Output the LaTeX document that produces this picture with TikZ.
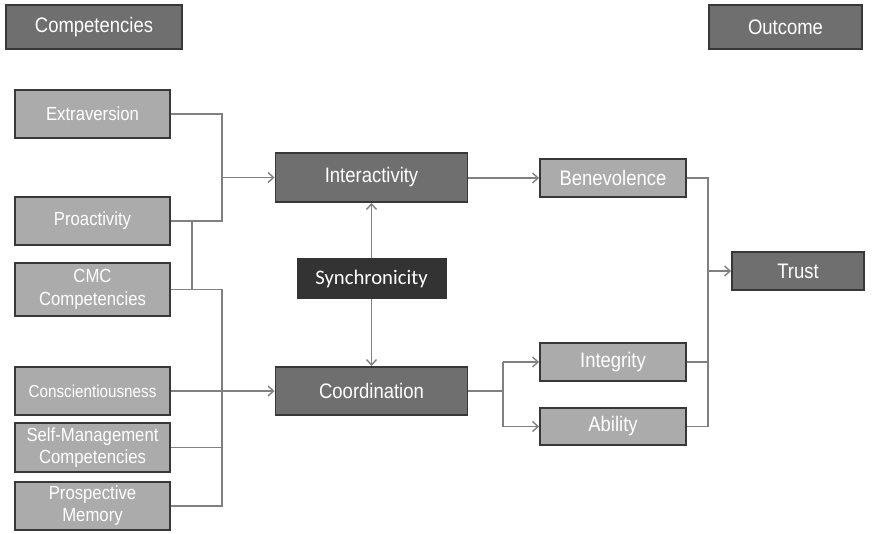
\documentclass[tikz,border=0pt]{standalone}
\usepackage{fontspec}
\setmainfont{Liberation Sans}[FakeStretch=0.88]
\newfontfamily\calib{Carlito}
\usetikzlibrary{arrows.meta}
\definecolor{darkc}{HTML}{6F6F6F}
\definecolor{lightc}{HTML}{ABABAB}
\definecolor{bordc}{HTML}{383838}
\definecolor{syncc}{HTML}{333333}
\definecolor{linec}{HTML}{808080}
\tikzset{
  x=1pt, y=-1pt,
  basebox/.style={draw=bordc, line width=1.9pt, text=white, inner sep=0pt, align=center},
  dk/.style={basebox, fill=darkc, font=\fontsize{21}{23}\selectfont},
  lt/.style={basebox, fill=lightc, font=\fontsize{21}{23}\selectfont},
  lf/.style={basebox, fill=lightc, minimum width=155pt, font=\fontsize{19}{23}\selectfont},
  syn/.style={basebox, draw=syncc, line width=1pt, fill=syncc, font=\calib\fontsize{20.7}{22}\selectfont},
  conn/.style={draw=linec, line width=1.4pt},
  arr/.style={conn, -{Straight Barb[length=5.5pt,width=10pt,line width=1.4pt]}}
}
\begin{document}
\begin{tikzpicture}
\useasboundingbox (0,0) rectangle (880,534);
% headers
\node[dk, minimum width=176pt, minimum height=44pt] (comp) at (94,27) {Competencies};
\node[dk, minimum width=153pt, minimum height=44pt] (outc) at (785.5,27) {Outcome};
% left boxes
\node[lf, minimum height=48pt] (extra) at (92.5,114) {Extraversion};
\node[lf, minimum height=48pt] (proa) at (92.5,221) {Proactivity};
\node[lf, minimum height=53pt] (cmc) at (92.5,289.5) {CMC\\Competencies};
\node[lf, minimum height=48pt, font=\fontsize{17.3}{21}\selectfont] (consc) at (92.5,391) {Conscientiousness};
\node[lf, minimum height=49pt, font=\fontsize{19}{22}\selectfont] (selfm) at (92.5,447.5) {Self-Management\\Competencies};
\node[lf, minimum height=48pt, font=\fontsize{19}{22}\selectfont] (prosp) at (92.5,506) {Prospective\\Memory};
% middle
\node[dk, minimum width=192pt, minimum height=49pt] (inter) at (371.5,177.5) {Interactivity};
\node[dk, minimum width=192pt, minimum height=48pt] (coord) at (371.5,391) {Coordination};
\node[syn, minimum width=149pt, minimum height=40pt] (sync) at (371.5,279) {Synchronicity};
% right
\node[lt, minimum width=146pt, minimum height=38pt] (bene) at (613,178) {Benevolence};
\node[lt, minimum width=146pt, minimum height=38pt] (integ) at (613,362) {Integrity};
\node[lt, minimum width=146pt, minimum height=37pt] (abil) at (613,426.5) {Ability};
\node[dk, minimum width=132pt, minimum height=38pt] (trust) at (798,271) {Trust};
% junction coordinates
\coordinate (ja) at (222,114);
\coordinate (jb) at (222,221);
\coordinate (ji) at (222,177.5);
\coordinate (pb) at (192,221);
\coordinate (pc) at (192,289.5);
\coordinate (jc) at (222,289.5);
\coordinate (jd) at (222,506);
\coordinate (js) at (222,447.5);
\coordinate (co) at (503,391);
\coordinate (ct) at (503,362);
\coordinate (cb) at (503,426.5);
\coordinate (ra) at (708,178);
\coordinate (rb) at (708,426.5);
\coordinate (ri) at (708,362);
\coordinate (rt) at (708,271);
% left connectors
\draw[conn] (extra.east) -- (ja) -- (jb) -- (proa.east);
\draw[arr] (ji) -- (inter.west);
\draw[conn] (pb) -- (pc);
\draw[conn] (cmc.east) -- (jc) -- (jd) -- (prosp.east);
\draw[conn] (selfm.east) -- (js);
\draw[arr] (consc.east) -- (coord.west);
% synchronicity
\draw[arr] (sync.north) -- (inter.south);
\draw[arr] (sync.south) -- (coord.north);
% right connectors
\draw[arr] (inter.east |- bene.west) -- (bene.west);
\draw[conn] (coord.east) -- (co);
\draw[conn] (ct) -- (cb);
\draw[arr] (ct) -- (integ.west);
\draw[arr] (cb) -- (abil.west);
\draw[conn] (bene.east) -- (ra) -- (rb) -- (abil.east);
\draw[conn] (integ.east) -- (ri);
\draw[arr] (rt) -- (trust.west);
\end{tikzpicture}
\end{document}
